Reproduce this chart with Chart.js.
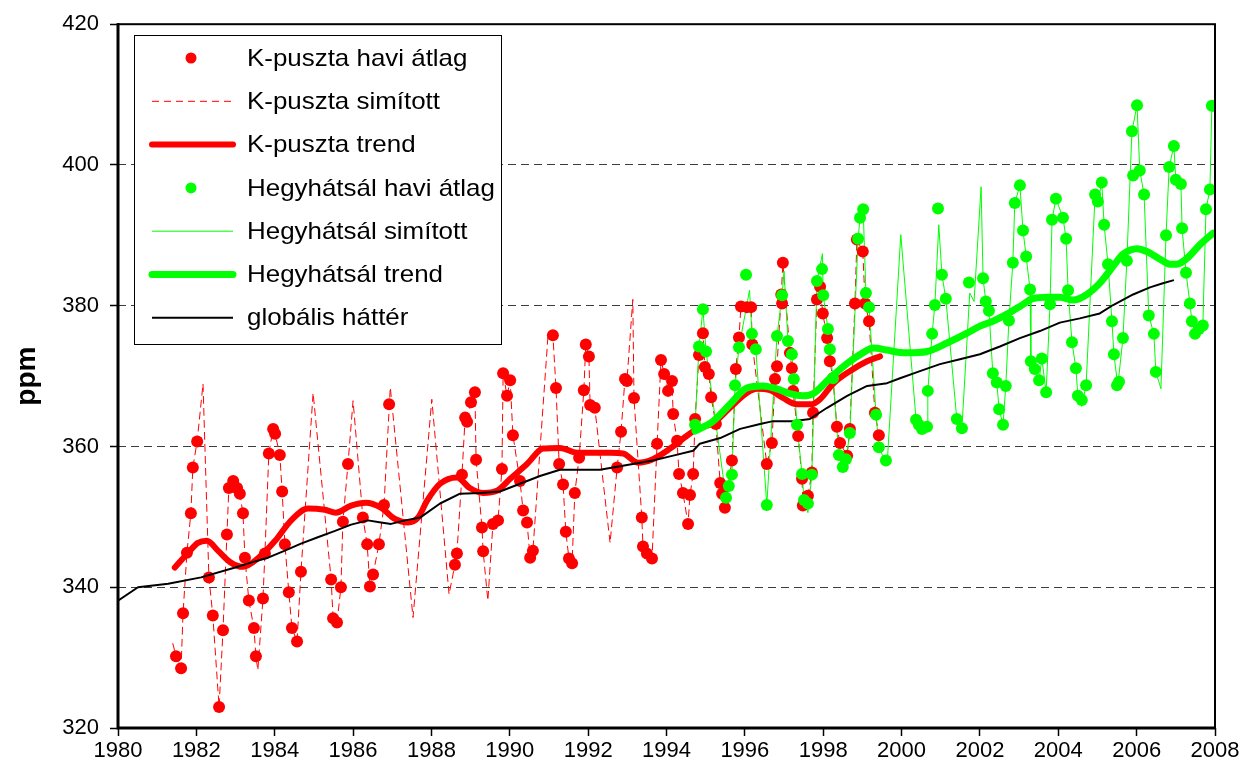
<!DOCTYPE html>
<html>
<head>
<meta charset="utf-8">
<title>CO2 – K-puszta és Hegyhátsál</title>
<script src="https://cdn.jsdelivr.net/npm/chart.js@4/dist/chart.umd.min.js"></script>
<style>
  html, body { margin: 0; padding: 0; background: #fff; }
  #wrap { width: 1253px; height: 778px; position: relative; }
</style>
</head>
<body>
<div id="wrap"><canvas id="c" width="1253" height="778"></canvas></div>
<script>
// ---- K-puszta: havi átlagok (év, ppm) ----
const kpHaviEv = [
  1981.48,1981.61,1981.66,1981.76,1981.86,1981.91,1982.02,1982.32,1982.42,1982.58,1982.68,1982.78,1982.83,1982.94,
  1983.04,1983.11,1983.19,1983.24,1983.34,1983.47,1983.52,1983.70,1983.75,1983.85,1983.96,
  1984.01,1984.13,1984.19,1984.26,1984.36,1984.44,1984.57,1984.67,
  1985.44,1985.49,1985.59,1985.69,1985.74,1985.87,1986.25,1986.36,1986.43,1986.51,1986.66,1986.79,1986.92,
  1988.60,1988.65,1988.78,1988.86,1988.91,1989.01,1989.11,1989.14,1989.29,1989.32,
  1989.57,1989.70,1989.80,1989.83,1989.93,1990.01,1990.08,1990.26,1990.34,1990.44,1990.52,1990.59,
  1991.10,1991.18,1991.26,1991.36,1991.43,1991.51,1991.59,1991.66,1991.77,1991.89,1991.94,1992.02,1992.05,1992.17,
  1992.74,1992.84,1992.94,1992.99,1993.17,1993.37,1993.40,1993.50,1993.63,1993.76,
  1993.86,1993.94,1994.04,1994.14,1994.17,1994.27,1994.32,1994.42,1994.55,1994.60,
  1994.68,1994.73,1994.83,1994.93,1994.98,1995.08,1995.14,1995.26,1995.37,1995.42,
  1995.49,1995.67,1995.77,1995.85,1995.90,1996.05,1996.16,1996.19,
  1996.56,1996.69,1996.77,1996.82,1996.93,1996.95,1996.97,1997.15,1997.20,1997.23,
  1997.36,1997.46,1997.48,1997.61,1997.71,1997.74,1997.84,1997.92,1997.99,1998.10,
  1998.17,1998.25,1998.35,1998.43,1998.61,1998.68,1998.81,1998.86,1999.01,1999.07,
  1999.17,1999.32,1999.42
];
const kpHaviPpm = [
  330.2,328.5,336.3,344.9,350.5,357.0,360.7,341.4,336.0,323.0,333.9,347.5,354.1,355.1,
  354.1,353.3,350.5,344.2,338.1,334.2,330.2,338.4,344.8,359.0,362.5,
  361.8,358.8,353.6,346.1,339.3,334.2,332.3,342.2,
  341.1,335.6,335.0,340.0,349.3,357.5,349.9,346.1,340.1,341.8,346.1,351.7,366.0,
  343.2,344.8,356.0,364.1,363.5,366.3,367.7,358.1,348.5,345.1,
  349.0,349.5,356.8,370.4,367.2,369.4,361.6,355.1,350.9,349.2,344.2,345.2,
  375.8,368.3,357.5,354.6,347.9,344.1,343.4,353.4,358.4,368.0,374.5,372.8,365.9,365.5,
  357.0,362.1,369.6,369.3,366.9,349.9,345.8,344.8,344.1,360.4,
  372.3,370.3,367.9,369.3,364.6,360.8,356.1,353.4,349.0,353.1,
  356.1,363.9,373.0,376.1,371.3,370.3,367.0,363.2,354.8,353.3,
  351.3,358.0,371.0,375.5,379.9,379.8,379.8,374.5,
  357.5,360.5,369.6,371.4,381.6,380.3,386.1,373.3,371.1,367.9,
  361.5,355.4,351.6,353.0,356.3,364.8,380.9,382.7,378.9,375.4,
  372.1,369.7,362.8,360.5,358.7,362.5,380.3,389.4,387.7,380.3,
  377.8,364.8,361.6
];

// ---- K-puszta: simított görbe ----
const kpSimEv = [
  1981.40,1981.48,1981.61,1981.66,1981.76,1981.86,1981.91,1982.02,1982.17,1982.32,
  1982.42,1982.58,1982.68,1982.78,1982.83,1982.94,1983.04,1983.11,1983.19,1983.24,
  1983.34,1983.47,1983.52,1983.57,1983.70,1983.75,1983.85,1983.96,1984.01,1984.13,
  1984.19,1984.26,1984.36,1984.44,1984.57,1984.67,1984.98,1985.44,1985.49,1985.59,
  1985.69,1985.74,1985.87,1986.00,1986.25,1986.36,1986.43,1986.51,1986.66,1986.79,
  1986.95,1987.53,1988.01,1988.45,1988.60,1988.65,1988.78,1988.86,1988.91,1989.01,
  1989.11,1989.14,1989.29,1989.32,1989.44,1989.57,1989.70,1989.80,1989.83,1989.93,
  1990.01,1990.08,1990.26,1990.34,1990.44,1990.52,1990.59,1990.98,1991.10,1991.18,
  1991.26,1991.36,1991.43,1991.51,1991.59,1991.66,1991.77,1991.89,1991.94,1992.02,
  1992.05,1992.17,1992.56,1992.74,1992.84,1992.94,1992.99,1993.14,1993.17,1993.37,
  1993.40,1993.50,1993.63,1993.76,1993.86,1993.94,1994.04,1994.14,1994.17,1994.27,
  1994.32,1994.42,1994.55,1994.60,1994.68,1994.73,1994.83,1994.93,1994.98,1995.08,
  1995.14,1995.26,1995.37,1995.42,1995.49,1995.67,1995.77,1995.85,1995.90,1996.05,
  1996.16,1996.19,1996.56,1996.69,1996.77,1996.82,1996.93,1996.97,1997.15,1997.20,
  1997.23,1997.36,1997.46,1997.48,1997.61,1997.71,1997.74,1997.84,1997.92,1997.99,
  1998.10,1998.17,1998.25,1998.35,1998.43,1998.61,1998.68,1998.81,1998.86,1999.01,
  1999.07,1999.17,1999.32,1999.42
];
const kpSimPpm = [
  332.0,330.2,328.5,336.3,344.9,350.5,357.0,360.7,368.9,341.4,
  336.0,323.0,333.9,347.5,354.1,355.1,354.1,353.3,350.5,344.2,
  338.1,334.2,330.2,328.2,338.4,344.8,359.0,362.5,361.8,358.8,
  353.6,346.1,339.3,334.2,332.3,342.2,367.6,341.1,335.6,335.0,
  340.0,349.3,357.5,366.5,349.9,346.1,340.1,341.8,346.1,351.7,
  368.4,335.7,366.7,339.0,343.2,344.8,356.0,364.1,363.5,366.3,
  367.7,358.1,348.5,345.1,338.1,349.0,349.5,356.8,370.4,367.2,
  369.4,361.6,355.1,350.9,349.2,344.2,345.2,376.1,375.8,368.3,
  357.5,354.6,347.9,344.1,343.4,353.4,358.4,368.0,374.5,372.8,
  365.9,365.5,346.3,357.0,362.1,369.6,369.3,380.9,366.9,349.9,
  345.8,344.8,344.1,360.4,372.3,370.3,367.9,369.3,364.6,360.8,
  356.1,353.4,349.0,353.1,356.1,363.9,373.0,376.1,371.3,370.3,
  367.0,363.2,354.8,353.3,351.3,358.0,371.0,375.5,379.9,379.8,
  379.8,374.5,357.5,360.5,369.6,371.4,381.6,386.1,373.3,371.1,
  367.9,361.5,355.4,351.6,353.0,356.3,364.8,380.9,382.7,378.9,
  375.4,372.1,369.7,362.8,360.5,358.7,362.5,380.3,389.4,387.7,
  380.3,377.8,364.8,361.6
];

// ---- K-puszta: trend ----
const kpTrendEv = [
  1981.45,1981.79,1982.04,1982.27,1982.55,1982.88,1983.19,1983.57,1984.01,1984.42,
  1984.85,1985.28,1985.56,1985.95,1986.33,1986.71,1987.07,1987.40,1987.66,1987.89,
  1988.22,1988.65,1988.98,1989.32,1989.67,1990.01,1990.44,1990.85,1991.28,1991.72,
  1992.12,1992.56,1992.89,1993.27,1993.65,1994.09,1994.42,1994.78,1995.19,1995.62,
  1996.05,1996.31,1996.64,1996.97,1997.33,1997.71,1997.92,1998.25,1998.68,1999.12,
  1999.45
];
const kpTrendPpm = [
  342.8,344.9,346.3,346.6,345.2,343.5,342.9,344.1,346.6,349.5,
  351.2,351.0,350.6,351.6,352.0,351.3,349.7,349.2,349.9,352.3,
  354.7,355.6,354.1,353.4,353.7,355.4,357.5,359.7,359.8,359.1,
  359.1,359.1,359.0,357.7,358.2,359.7,361.1,362.5,363.3,365.5,
  367.6,368.2,368.0,366.9,366.0,366.0,366.7,368.9,370.7,372.1,
  372.8
];

// ---- Hegyhátsál: havi átlagok ----
const hHaviEv = [
  1994.73,1994.83,1994.93,1995.01,1995.52,1995.59,1995.67,1995.75,1995.85,1996.03,
  1996.18,1996.28,1996.56,1996.82,1996.95,1997.10,1997.20,1997.25,1997.33,1997.46,
  1997.51,1997.61,1997.71,1997.84,1997.97,1998.00,1998.12,1998.17,1998.25,1998.40,
  1998.50,1998.58,1998.68,1998.89,1998.94,1999.02,1999.09,1999.17,1999.35,1999.42,
  1999.60,2000.37,2000.44,2000.52,2000.65,2000.67,2000.78,2000.85,2000.93,2001.03,
  2001.13,2001.41,2001.54,2001.72,2002.08,2002.15,2002.23,2002.33,2002.43,2002.49,
  2002.59,2002.66,2002.74,2002.84,2002.89,2003.02,2003.10,2003.18,2003.28,2003.30,
  2003.40,2003.51,2003.58,2003.69,2003.79,2003.84,2003.94,2004.12,2004.20,2004.25,
  2004.35,2004.45,2004.50,2004.60,2004.71,2004.94,2005.01,2005.11,2005.17,2005.27,
  2005.37,2005.42,2005.50,2005.55,2005.65,2005.75,2005.88,2005.91,2006.01,2006.08,
  2006.19,2006.31,2006.44,2006.49,2006.75,2006.83,2006.95,2007.00,2007.13,2007.16,
  2007.26,2007.36,2007.41,2007.49,2007.59,2007.69,2007.77,2007.87,2007.92
];
const hHaviPpm = [
  363.1,374.2,379.5,373.5,352.7,354.4,356.0,368.7,374.1,384.4,
  376.0,373.8,351.7,375.7,381.5,375.0,373.1,369.6,363.1,356.1,
  352.4,351.9,356.0,383.5,385.2,381.5,376.7,373.8,369.7,358.8,
  357.1,358.2,361.9,389.5,392.5,393.7,381.8,379.8,364.5,359.9,
  358.0,363.8,363.1,362.5,362.8,367.9,376.0,380.1,393.8,384.4,
  381.0,363.9,362.6,383.3,383.9,380.6,379.3,370.4,369.1,365.3,
  363.1,368.6,377.9,386.1,394.6,397.1,390.7,387.0,382.3,372.1,
  371.0,369.4,372.5,367.7,380.2,392.2,395.2,392.5,389.5,382.2,
  374.8,371.1,367.2,366.6,368.7,395.8,394.8,397.5,391.5,385.9,
  377.8,373.1,368.7,369.2,375.4,386.4,404.8,398.5,408.5,399.2,
  395.8,378.6,376.0,370.6,390.0,399.7,402.7,397.9,397.3,391.0,
  384.7,380.3,377.8,376.0,376.7,377.2,393.7,396.5,408.4
];

// ---- Hegyhátsál: simított görbe ----
const hSimEv = [
  1994.73,1994.83,1994.93,1995.01,1995.52,1995.59,1995.67,1995.75,1995.85,1996.12,
  1996.18,1996.28,1996.56,1996.82,1996.95,1997.00,1997.10,1997.20,1997.25,1997.33,
  1997.46,1997.51,1997.61,1997.71,1997.84,1997.98,1998.00,1998.12,1998.17,1998.25,
  1998.40,1998.50,1998.58,1998.68,1998.89,1998.94,1999.02,1999.09,1999.17,1999.35,
  1999.42,1999.63,1999.98,2000.37,2000.44,2000.52,2000.65,2000.67,2000.78,2000.85,
  2000.95,2001.03,2001.13,2001.41,2001.54,2001.74,2001.85,2002.03,2002.08,2002.15,
  2002.23,2002.33,2002.43,2002.49,2002.59,2002.66,2002.74,2002.84,2002.89,2003.02,
  2003.10,2003.18,2003.28,2003.30,2003.40,2003.51,2003.58,2003.69,2003.79,2003.84,
  2003.94,2004.12,2004.20,2004.25,2004.35,2004.45,2004.50,2004.60,2004.71,2004.94,
  2005.01,2005.11,2005.17,2005.27,2005.37,2005.42,2005.52,2005.65,2005.75,2005.88,
  2006.01,2006.08,2006.19,2006.31,2006.44,2006.49,2006.62,2006.75,2006.83,2006.95,
  2007.00,2007.13,2007.16,2007.26,2007.36,2007.41,2007.49,2007.55,2007.69,2007.77,
  2007.87,2007.92
];
const hSimPpm = [
  363.1,374.2,379.5,373.5,352.7,354.4,356.0,368.7,374.1,382.2,
  376.0,373.8,351.7,375.7,381.5,384.9,375.0,373.1,369.6,363.1,
  356.1,352.4,350.6,356.0,383.5,387.4,381.5,376.7,373.8,369.7,
  358.8,357.1,358.2,361.9,389.5,392.5,393.7,381.8,379.8,364.5,
  359.9,357.3,390.1,363.8,363.1,362.5,362.8,367.9,376.0,380.1,
  391.5,384.4,381.0,363.9,362.6,381.8,380.6,396.9,383.9,380.6,
  379.3,370.4,369.1,365.3,363.1,368.6,377.9,386.1,394.6,397.1,
  390.7,387.0,382.3,372.1,371.0,369.4,372.5,367.7,380.2,392.2,
  395.2,392.5,389.5,382.2,374.8,371.1,367.2,365.7,368.7,395.8,
  394.8,397.5,391.5,385.9,377.8,373.1,368.6,375.4,386.4,404.8,
  408.5,399.2,395.8,378.6,376.0,370.6,368.2,390.0,399.7,402.7,
  397.9,397.3,391.0,384.7,380.3,377.8,376.0,375.4,377.2,393.7,
  396.5,408.4
];

// ---- Hegyhátsál: trend ----
const hTrendEv = [
  1994.73,1995.19,1995.62,1996.05,1996.46,1996.82,1997.15,1997.48,1997.74,1998.17,
  1998.61,1999.01,1999.27,1999.63,1999.91,2000.14,2000.65,2001.16,2001.67,2002.00,
  2002.33,2002.69,2003.02,2003.35,2003.71,2004.04,2004.38,2004.73,2005.06,2005.40,
  2005.65,2006.01,2006.26,2006.60,2006.85,2007.03,2007.28,2007.62,2007.95
];
const hTrendPpm = [
  362.2,363.6,366.0,368.3,368.6,368.2,367.5,367.2,367.5,369.7,
  371.8,373.3,374.0,373.7,373.4,373.3,373.5,374.7,376.1,377.1,
  377.8,378.8,379.9,381.0,381.2,381.2,380.8,381.6,383.2,385.6,
  387.3,388.1,387.7,386.6,385.9,385.9,386.7,388.7,390.3
];

// ---- globális háttér ----
const globEv = [
  1980.00,1980.51,1981.28,1982.12,1982.99,1983.39,1983.83,1984.26,1984.67,1985.10,
  1985.54,1985.95,1986.38,1986.71,1986.97,1987.33,1987.71,1988.22,1988.73,1989.24,
  1989.75,1990.26,1990.77,1991.28,1991.79,1992.30,1992.63,1993.14,1993.65,1994.17,
  1994.68,1994.85,1995.37,1995.88,1996.39,1996.72,1997.23,1997.66,1998.10,1998.61,
  1999.12,1999.63,1999.96,2000.47,2000.98,2001.49,2002.00,2002.51,2003.02,2003.53,
  2004.04,2004.55,2005.06,2005.40,2005.91,2006.34,2006.67,2006.93
];
const globPpm = [
  338.1,340.0,340.5,341.4,342.8,343.5,344.2,345.2,346.2,347.1,
  348.0,348.9,349.5,349.2,349.0,349.5,349.9,351.9,353.3,353.4,
  353.6,354.7,355.8,356.7,356.7,356.7,357.0,357.5,358.0,358.7,
  359.4,360.4,361.2,362.5,363.2,363.6,363.6,363.9,365.5,367.2,
  368.6,369.0,369.7,370.7,371.7,372.4,373.1,374.2,375.4,376.4,
  377.6,378.2,378.9,380.1,381.6,382.6,383.2,383.6
];

// Tengelyek
const evTickek = [1980,1982,1984,1986,1988,1990,1992,1994,1996,1998,2000,2002,2004,2006,2008];
const ppmTickek = [320,340,360,380,400,420];

function pontok(xs, ys) { return xs.map((x, i) => ({ x: x, y: ys[i] })); }

const FONT = "'Liberation Sans', Arial, Helvetica, sans-serif";
const PIROS = '#ff0000';
const ZOLD = '#00ff00';

// Jelmagyarázat doboza a rajzterületen belül
const jelmagyarazat = {
  id: 'jelmagyarazat',
  afterDraw(chart) {
    const ctx = chart.ctx;
    const bx = 134.5, by = 35.5, bw = 367, bh = 309;
    ctx.save();
    ctx.fillStyle = '#ffffff';
    ctx.fillRect(bx, by, bw, bh);
    ctx.strokeStyle = '#000000';
    ctx.lineWidth = 1;
    ctx.strokeRect(bx, by, bw, bh);
    chart.data.datasets.forEach((ds, i) => {
      const cy = 58 + i * 43.3;
      ctx.save();
      if (ds.showLine) {
        ctx.strokeStyle = ds.borderColor;
        ctx.lineWidth = ds.borderWidth;
        ctx.lineCap = ds.borderWidth > 3 ? 'round' : 'butt';
        ctx.setLineDash(ds.borderDash || []);
        ctx.beginPath();
        ctx.moveTo(152, cy);
        ctx.lineTo(233, cy);
        ctx.stroke();
      } else {
        ctx.fillStyle = ds.backgroundColor;
        ctx.beginPath();
        ctx.arc(191, cy, 5.5, 0, Math.PI * 2);
        ctx.fill();
      }
      ctx.restore();
      // a felirat kissé szélesített betűkkel
      ctx.save();
      ctx.translate(247, cy + 1);
      ctx.scale(1.08, 1);
      ctx.font = '24px ' + FONT;
      ctx.textBaseline = 'middle';
      ctx.textAlign = 'left';
      ctx.fillStyle = '#000000';
      ctx.fillText(ds.label, 0, 0);
      ctx.restore();
    });
    ctx.restore();
  }
};

// Fekete keret a rajzterület körül
const keret = {
  id: 'keret',
  afterDatasetsDraw(chart) {
    const { ctx, chartArea: a } = chart;
    ctx.save();
    ctx.strokeStyle = '#000000';
    ctx.lineWidth = 2;
    ctx.strokeRect(a.left, a.top, a.right - a.left, a.bottom - a.top);
    ctx.lineWidth = 3;
    ctx.beginPath();
    ctx.moveTo(a.left, a.top - 1);
    ctx.lineTo(a.left, a.bottom + 1.5);
    ctx.moveTo(a.left - 1.5, a.bottom);
    ctx.lineTo(a.right + 1, a.bottom);
    ctx.stroke();
    ctx.restore();
  }
};

const vonal = (label, xs, ys, color, width, dash, order) => ({
  label: label,
  data: pontok(xs, ys),
  showLine: true,
  borderColor: color,
  backgroundColor: color,
  borderWidth: width,
  borderDash: dash,
  borderCapStyle: 'round',
  borderJoinStyle: 'round',
  pointRadius: 0,
  pointHoverRadius: 0,
  tension: 0,
  order: order
});

const pontsor = (label, xs, ys, color, order) => ({
  label: label,
  data: pontok(xs, ys),
  showLine: false,
  backgroundColor: color,
  borderColor: color,
  borderWidth: 0,
  pointRadius: 6,
  pointHoverRadius: 6,
  pointBorderWidth: 0,
  order: order
});

const datasets = [
  pontsor('K-puszta havi átlag', kpHaviEv, kpHaviPpm, PIROS, 5),
  vonal('K-puszta simított', kpSimEv, kpSimPpm, PIROS, 1, [7, 5], 7),
  vonal('K-puszta trend', kpTrendEv, kpTrendPpm, PIROS, 6, [], 4),
  pontsor('Hegyhátsál havi átlag', hHaviEv, hHaviPpm, ZOLD, 2),
  vonal('Hegyhátsál simított', hSimEv, hSimPpm, ZOLD, 1, [], 6),
  vonal('Hegyhátsál trend', hTrendEv, hTrendPpm, ZOLD, 7, [], 1),
  vonal('globális háttér', globEv, globPpm, '#000000', 2, [], 3)
];
datasets[2].cubicInterpolationMode = 'monotone';
datasets[5].cubicInterpolationMode = 'monotone';

new Chart(document.getElementById('c'), {
  type: 'scatter',
  data: { datasets: datasets },
  options: {
    responsive: false,
    animation: false,
    devicePixelRatio: 1,
    layout: { padding: { top: 22, right: 38, bottom: 0, left: 0 } },
    plugins: {
      legend: { display: false },
      tooltip: { enabled: false }
    },
    scales: {
      x: {
        type: 'linear',
        min: 1980,
        max: 2008,
        afterFit: (s) => { s.height = 50; },
        afterBuildTicks: (s) => { s.ticks = evTickek.map(v => ({ value: v })); },
        ticks: {
          color: '#000000',
          font: { family: FONT, size: 22 },
          padding: 2,
          maxRotation: 0,
          autoSkip: false,
          callback: (v) => String(v)
        },
        grid: {
          drawOnChartArea: false,
          drawTicks: true,
          tickLength: 8,
          tickColor: '#000000',
          tickWidth: 1.5
        },
        border: { display: false }
      },
      y: {
        type: 'linear',
        min: 320,
        max: 420,
        afterFit: (s) => { s.width = 118; },
        afterBuildTicks: (s) => { s.ticks = ppmTickek.map(v => ({ value: v })); },
        ticks: {
          color: '#000000',
          font: { family: FONT, size: 22 },
          padding: 11,
          autoSkip: false,
          callback: (v) => String(v)
        },
        grid: {
          color: (c) => (c.tick && (c.tick.value === 320 || c.tick.value === 420)) ? 'rgba(0,0,0,0)' : '#3c3c3c',
          lineWidth: 1,
          borderDash: [8, 5],
          drawTicks: true,
          tickLength: 8,
          tickColor: '#000000',
          tickWidth: 1.5,
          tickBorderDash: []
        },
        border: { display: false, dash: [8, 5] },
        title: {
          display: true,
          text: 'ppm',
          color: '#000000',
          font: { family: FONT, size: 28, weight: 'bold' },
          padding: { top: 10, bottom: 0 }
        }
      }
    }
  },
  plugins: [keret, jelmagyarazat]
});
</script>
</body>
</html>
